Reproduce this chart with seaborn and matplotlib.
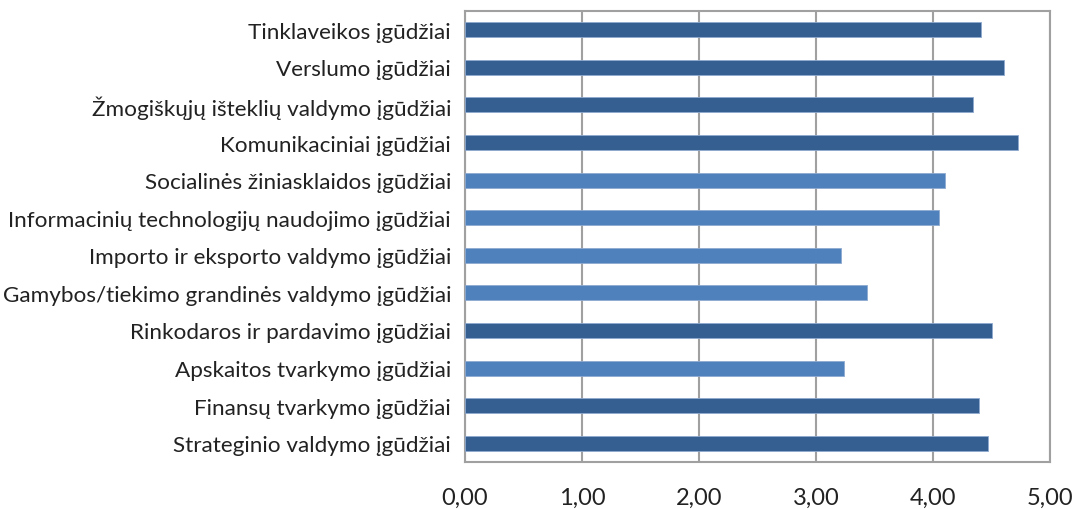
import matplotlib
matplotlib.use("Agg")
import matplotlib.pyplot as plt
import seaborn as sns
import pandas as pd

categories = [
    "Tinklaveikos įgūdžiai",
    "Verslumo įgūdžiai",
    "Žmogiškųjų išteklių valdymo įgūdžiai",
    "Komunikaciniai įgūdžiai",
    "Socialinės žiniasklaidos įgūdžiai",
    "Informacinių technologijų naudojimo įgūdžiai",
    "Importo ir eksporto valdymo įgūdžiai",
    "Gamybos/tiekimo grandinės valdymo įgūdžiai",
    "Rinkodaros ir pardavimo įgūdžiai",
    "Apskaitos tvarkymo įgūdžiai",
    "Finansų tvarkymo įgūdžiai",
    "Strateginio valdymo įgūdžiai",
]
values = [4.41, 4.61, 4.34, 4.73, 4.10, 4.05, 3.21, 3.44, 4.50, 3.24, 4.39, 4.47]
groups = ["A", "A", "A", "A", "B", "B", "B", "B", "A", "B", "A", "A"]
tick_values = [0, 1, 2, 3, 4, 5]
tick_labels = ["0,00", "1,00", "2,00", "3,00", "4,00", "5,00"]

df = pd.DataFrame({"cat": categories, "val": values, "grp": groups})

sns.set_style("white")
plt.rcParams["font.family"] = ["Lato", "DejaVu Sans"]

fig = plt.figure(figsize=(10.75, 5.1), dpi=100)
ax = fig.add_axes([465 / 1075, 1 - 463 / 510, (1050 - 465) / 1075, (463 - 12) / 510])

sns.barplot(data=df, y="cat", x="val", hue="grp", orient="h", dodge=False,
            palette={"A": "#365F91", "B": "#4F81BD"}, saturation=1, width=0.4,
            edgecolor="#8FAAD0", linewidth=0.6, legend=False, ax=ax, zorder=3)

ax.set_xlim(0, 5)
ax.set_ylim(len(categories) - 0.5, -0.5)
ax.set_xticks(tick_values)
ax.set_xticklabels(tick_labels, fontsize=17, color="#222222")
ax.tick_params(axis="x", length=0, pad=18)
ax.tick_params(axis="y", length=0, pad=10, labelsize=16.2, labelcolor="#222222")
ax.set_xlabel("")
ax.set_ylabel("")
ax.grid(axis="x", color="#A0A0A0", linewidth=1.5, zorder=0)
ax.grid(axis="y", visible=False)
ax.set_axisbelow(True)
for s in ax.spines.values():
    s.set_color("#A0A0A0")
    s.set_linewidth(1.5)

fig.savefig("out.png", dpi=100, facecolor="white")
